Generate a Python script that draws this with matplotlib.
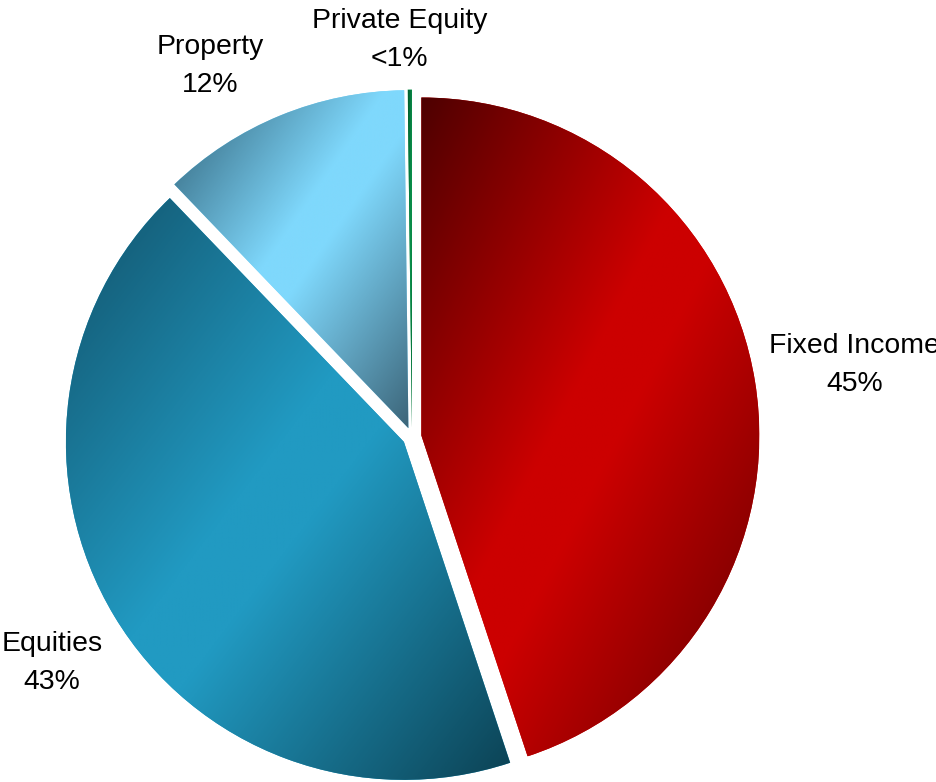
import numpy as np
import matplotlib.pyplot as plt
from matplotlib.colors import LinearSegmentedColormap

# asset allocation
names = ['Fixed Income', 'Equities', 'Property', 'Private Equity']
weights = [45, 43, 12, 0.2]
pct_labels = ['45%', '43%', '12%', '<1%']

# dark -> bright -> dark shading for each slice
shades = [
    ['#4e0000', '#cc0000', '#cc0000', '#640000'],
    ['#12526a', '#219ac2', '#219ac2', '#0c4254'],
    ['#2f5f75', '#7fd8fc', '#7fd8fc', '#3c6579'],
    ['#005a2c', '#0b8f4b', '#0b8f4b', '#005a2c'],
]

plt.rcParams['font.family'] = ['Liberation Sans', 'DejaVu Sans']

fig = plt.figure(figsize=(9.37, 7.82), dpi=100)
ax = fig.add_axes([0, 0, 1, 1])

wedges, _ = ax.pie(weights, startangle=90, counterclock=False, radius=1,
                   explode=[0.028] * len(weights),
                   wedgeprops=dict(linewidth=0))

# fill each wedge with a diagonal gradient over its bounding box
for w, cols in zip(wedges, shades):
    w.set_facecolor(cols[1])
    th = np.radians(np.linspace(w.theta1, w.theta2, 200))
    cx, cy = w.center
    xs = np.r_[cx, cx + w.r * np.cos(th)]
    ys = np.r_[cy, cy + w.r * np.sin(th)]
    x0, x1, y0, y1 = xs.min(), xs.max(), ys.min(), ys.max()
    u, v = np.meshgrid(np.linspace(0, 1, 300), np.linspace(0, 1, 300))
    t = (u + v) / 2
    cmap = LinearSegmentedColormap.from_list('shade', list(zip([0, 0.45, 0.55, 1], cols)))
    im = ax.imshow(t, cmap=cmap, vmin=0, vmax=1, origin='upper',
                   extent=(x0, x1, y0, y1), interpolation='bilinear', zorder=3)
    im.set_clip_path(w)

# labels placed outside each slice
label_pos = [(1.31, 0.213), (-1.065, -0.668), (-0.598, 1.098), (-0.036, 1.175)]
for (lx, ly), name, pct in zip(label_pos, names, pct_labels):
    ax.text(lx, ly, f'{name}\n{pct}', ha='center', va='center',
            fontsize=20.4, linespacing=1.62, zorder=5)

ax.set_xlim(-412 / 338, 525 / 338)
ax.set_ylim(-345 / 338, 437 / 338)
ax.axis('off')

fig.savefig('out.png', dpi=100)
